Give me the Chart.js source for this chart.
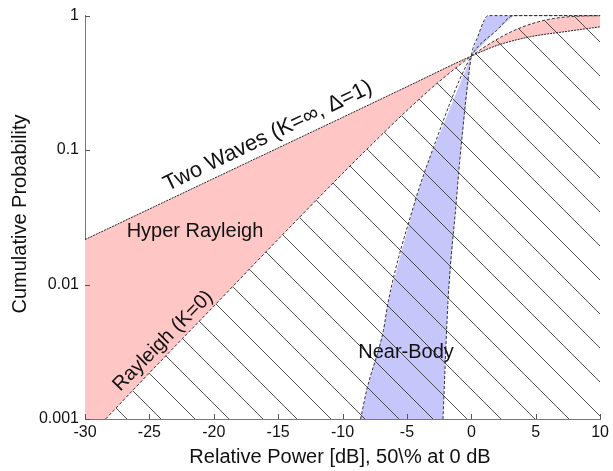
<!DOCTYPE html>
<html>
<head>
<meta charset="utf-8">
<script src="https://cdn.jsdelivr.net/npm/chart.js@4/dist/chart.umd.min.js"></script>
<style>
  body { margin: 0; background: #fff; }
  #wrap { width: 613px; height: 471px; position: relative; }
</style>
</head>
<body>
<div id="wrap"><canvas id="chart"></canvas></div>
<script>
// values
const xTicks = [-30, -25, -20, -15, -10, -5, 0, 5, 10];
const yTicks = [1, 0.1, 0.01, 0.001];

const rayleighX = [-30, -28.4, -25, -20, -15, -10, -7, -5, -3, -2, -1, 0, 1, 2, 3, 4, 5, 6, 7, 8, 9, 10];
const rayleighP = [0.00069, 0.001, 0.0022, 0.0069, 0.0217, 0.067, 0.129, 0.197, 0.294, 0.354, 0.423, 0.5, 0.582, 0.667, 0.75, 0.825, 0.888, 0.937, 0.969, 0.987, 0.996, 0.999];

const twoWaveX = [-30, -20, -10, -5, 0, 2, 4.6, 7.2, 10];
const twoWaveP = [0.0216, 0.0615, 0.175, 0.296, 0.5, 0.6, 0.697, 0.758, 0.825];

// near-body band: narrow and wide edge
const nearNarrowX = [-2.2, -1.81, -1.17, -0.91, 0, 0.5, 1.0, 1.3, 10];
const nearNarrowP = [0.001, 0.0075, 0.041, 0.081, 0.5, 0.697, 0.923, 1, 1];
const nearWideX = [-8.6, -8.12, -6.83, -6.45, -4.39, -3.36, 0, 2.0, 3.3, 10];
const nearWideP = [0.001, 0.00165, 0.00455, 0.0075, 0.041, 0.081, 0.5, 0.78, 1, 1];

const pink = '#ffc6c6';
const blue = '#c6c6fa';
const font = '"Liberation Sans", Arial, sans-serif';

function pts(xs, ys) {
    return xs.map((x, i) => ({ x: x, y: ys[i] }));
}

// diagonal hatch pattern
function makeHatch() {
    const s = 34;
    const c = document.createElement('canvas');
    c.width = s; c.height = s;
    const g = c.getContext('2d');
    g.strokeStyle = 'rgba(40,40,40,0.8)';
    g.lineWidth = 1;
    g.beginPath();
    g.moveTo(14, 0); g.lineTo(34, 20);
    g.moveTo(0, 20); g.lineTo(14, 34);
    g.stroke();
    return g.createPattern(c, 'repeat');
}

// blue band between the two near-body curves (drawn under the datasets)
const bandPlugin = {
    id: 'band',
    beforeDatasetsDraw(chart) {
        const ctx = chart.ctx;
        const xs = chart.scales.x, ys = chart.scales.y;
        const a = chart.chartArea;
        ctx.save();
        ctx.beginPath();
        ctx.rect(a.left, a.top, a.right - a.left, a.bottom - a.top);
        ctx.clip();
        ctx.beginPath();
        nearWideX.forEach((x, i) => {
            const px = xs.getPixelForValue(x), py = ys.getPixelForValue(nearWideP[i]);
            if (i === 0) ctx.moveTo(px, py); else ctx.lineTo(px, py);
        });
        for (let i = nearNarrowX.length - 1; i >= 0; i--) {
            ctx.lineTo(xs.getPixelForValue(nearNarrowX[i]), ys.getPixelForValue(nearNarrowP[i]));
        }
        ctx.closePath();
        ctx.fillStyle = blue;
        ctx.fill();
        ctx.restore();
    }
};

const labelsPlugin = {
    id: 'labels',
    afterDraw(chart) {
        const ctx = chart.ctx;
        const xs = chart.scales.x, ys = chart.scales.y;
        ctx.save();
        // inward tick marks
        ctx.strokeStyle = '#555';
        ctx.lineWidth = 1;
        ctx.beginPath();
        xTicks.forEach(v => {
            const px = Math.round(xs.getPixelForValue(v)) + 0.5;
            ctx.moveTo(px, ys.bottom); ctx.lineTo(px, ys.bottom - 5);
        });
        yTicks.forEach(v => {
            const py = Math.round(ys.getPixelForValue(v)) + 0.5;
            ctx.moveTo(xs.left, py); ctx.lineTo(xs.left + 5, py);
        });
        ctx.stroke();

        ctx.fillStyle = '#111';
        ctx.font = '20px ' + font;
        ctx.textAlign = 'center';
        ctx.textBaseline = 'middle';
        // axis titles
        ctx.fillText('Relative Power [dB], 50\\% at 0 dB', 340, 457);
        ctx.save();
        ctx.translate(20, 214);
        ctx.rotate(-Math.PI / 2);
        ctx.fillText('Cumulative Probability', 0, 0);
        ctx.restore();

        // region labels
        ctx.fillText('Hyper Rayleigh', 195, 231);
        ctx.fillText('Near-Body', 406, 352);
        ctx.save();
        ctx.translate(163, 341);
        ctx.rotate(-0.79);
        ctx.fillText('Rayleigh (K=0)', 0, 0);
        ctx.restore();
        ctx.font = '22px ' + font;
        ctx.save();
        ctx.translate(268, 136);
        ctx.rotate(-0.45);
        ctx.fillText('Two Waves (K=\u221e, \u0394=1)', 0, 0);
        ctx.restore();
        ctx.restore();
    }
};

const dash = [3, 2];

new Chart(document.getElementById('chart'), {
    type: 'line',
    data: {
        datasets: [
            {
                label: 'Rayleigh',
                data: pts(rayleighX, rayleighP),
                borderColor: '#333',
                borderWidth: 1,
                borderDash: dash,
                pointRadius: 0,
                tension: 0.3,
                fill: 'start',
                backgroundColor: makeHatch(),
                order: 0
            },
            {
                label: 'Near-Body narrow',
                data: pts(nearNarrowX, nearNarrowP),
                borderColor: '#333',
                borderWidth: 1,
                borderDash: dash,
                pointRadius: 0,
                tension: 0,
                fill: false,
                clip: 3,
                order: 1
            },
            {
                label: 'Near-Body wide',
                data: pts(nearWideX, nearWideP),
                borderColor: '#333',
                borderWidth: 1,
                borderDash: dash,
                pointRadius: 0,
                tension: 0,
                fill: false,
                clip: 3,
                order: 2
            },
            {
                label: 'Two Waves',
                data: pts(twoWaveX, twoWaveP),
                borderColor: '#222',
                borderWidth: 1,
                borderDash: [2, 1],
                pointRadius: 0,
                tension: 0.3,
                fill: 0,
                backgroundColor: pink,
                order: 3
            }
        ]
    },
    options: {
        responsive: true,
        maintainAspectRatio: false,
        animation: false,
        layout: { padding: { top: 12, right: 10, left: 0, bottom: 0 } },
        plugins: {
            legend: { display: false },
            tooltip: { enabled: false }
        },
        elements: { line: { cubicInterpolationMode: 'monotone' } },
        scales: {
            x: {
                type: 'linear',
                min: -30,
                max: 10,
                afterBuildTicks: s => { s.ticks = xTicks.map(v => ({ value: v })); },
                afterFit: s => { s.height = 52; },
                grid: { display: true, drawOnChartArea: false, drawTicks: false },
                border: { display: true, color: '#777', width: 1 },
                ticks: {
                    color: '#111',
                    padding: 4,
                    maxRotation: 0,
                    font: { size: 16, family: font }
                }
            },
            y: {
                type: 'logarithmic',
                min: 0.001,
                max: 1,
                afterBuildTicks: s => { s.ticks = yTicks.map(v => ({ value: v })); },
                afterFit: s => { s.width = 85; },
                grid: { display: true, drawOnChartArea: false, drawTicks: false },
                border: { display: true, color: '#777', width: 1 },
                ticks: {
                    color: '#111',
                    padding: 6,
                    callback: v => String(v),
                    font: { size: 16, family: font }
                }
            }
        }
    },
    plugins: [bandPlugin, labelsPlugin]
});
</script>
</body>
</html>
